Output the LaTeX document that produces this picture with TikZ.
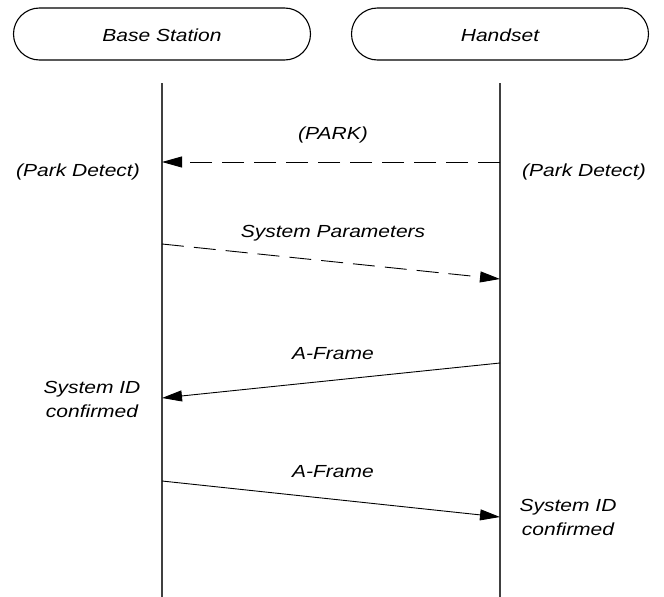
\documentclass[tikz,border=0pt]{standalone}
\usepackage{fontspec}
\setmainfont{Liberation Sans}[FakeStretch=1.2]
\usetikzlibrary{arrows.meta}
\tikzset{
  actor/.style={draw, line width=1.1pt, rounded corners=26pt, minimum width=297pt, minimum height=52pt, inner sep=0pt},
  lbl/.style={font=\fontsize{17.5}{24}\selectfont\itshape, inner sep=0pt, align=center},
  lifeline/.style={line width=1.3pt, draw=black!75},
  msg/.style={line width=0.9pt, -{Triangle[length=20pt,width=11pt]}},
  dmsg/.style={msg, dash pattern=on 22pt off 10pt},
}
\begin{document}
\begin{tikzpicture}[x=1pt,y=-1pt]
\useasboundingbox (0,0) rectangle (664,597);
\node[actor] (bs) at (162,34) {};
\node[lbl] (bst) at (162,35) {Base Station};
\node[actor] (hs) at (500,34) {};
\node[lbl] (hst) at (500,35) {Handset};
\coordinate (bstop) at (162,83);
\coordinate (bsbot) at (162,597);
\coordinate (hstop) at (500,83);
\coordinate (hsbot) at (500,597);
\draw[lifeline] (bstop) -- (bsbot);
\draw[lifeline] (hstop) -- (hsbot);
% messages
\coordinate (p1) at (500,162);
\coordinate (p2) at (162,162);
\draw[dmsg] (p1) -- (p2);
\node[lbl] (park) at (333,135) {(PARK)};
\node[lbl] (pdl) at (78,172) {(Park Detect)};
\node[lbl] (pdr) at (584,172) {(Park Detect)};
\coordinate (s1) at (162,244);
\coordinate (s2) at (500,279);
\draw[dmsg] (s1) -- (s2);
\node[lbl] (sp) at (333,233) {System Parameters};
\coordinate (a1) at (500,363);
\coordinate (a2) at (162,398);
\draw[msg] (a1) -- (a2);
\node[lbl] (af1) at (333,354) {A-Frame};
\node[lbl] (sidl) at (92,399) {System ID\\confirmed};
\coordinate (c1) at (162,481);
\coordinate (c2) at (500,517);
\draw[msg] (c1) -- (c2);
\node[lbl] (af2) at (333,472) {A-Frame};
\node[lbl] (sidr) at (568,517) {System ID\\confirmed};
\end{tikzpicture}
\end{document}
